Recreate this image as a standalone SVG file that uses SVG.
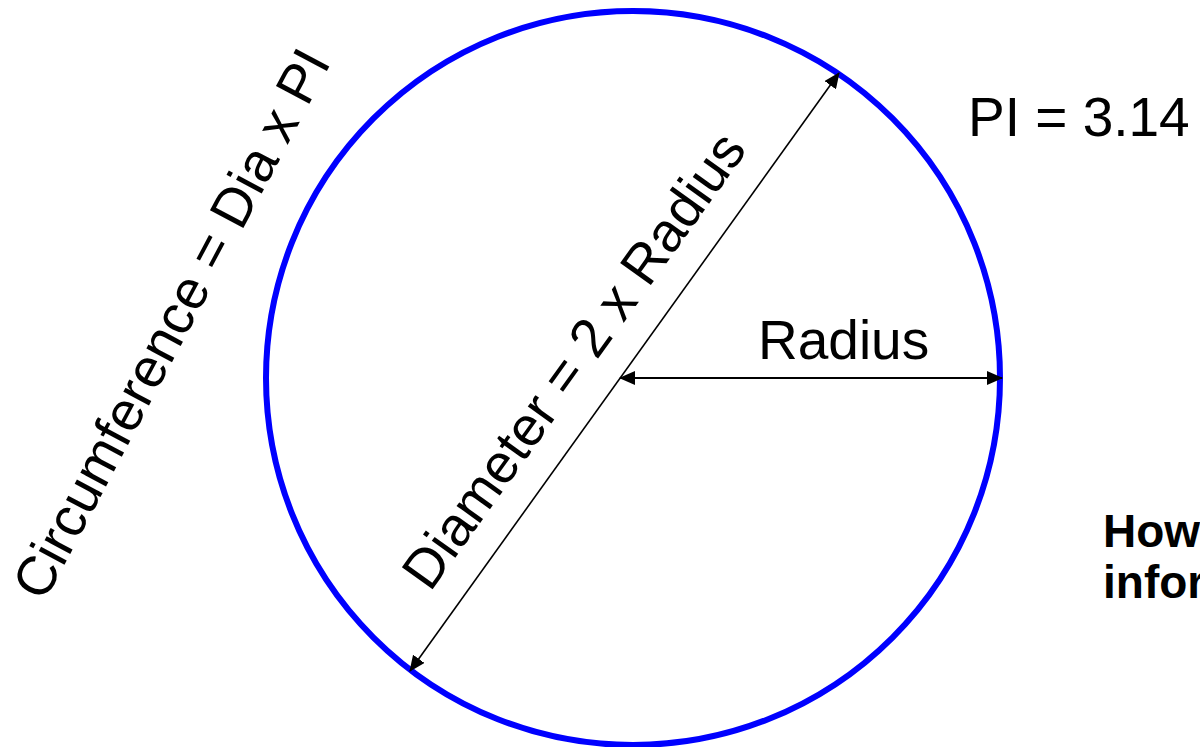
<svg xmlns="http://www.w3.org/2000/svg" width="1200" height="747" viewBox="0 0 1200 747">
  <style>
    .lbl { font-family: "Liberation Sans", Arial, sans-serif; font-size: 55px; fill: #000; }
    .note { font-family: "Liberation Sans", Arial, sans-serif; font-size: 46px; font-weight: bold; fill: #000; }
    .dim { stroke: #000; fill: none; }
  </style>
  <defs>
    <marker id="ah" markerUnits="userSpaceOnUse" viewBox="0 0 16 14" markerWidth="16" markerHeight="14" refX="15" refY="7" orient="auto-start-reverse">
      <path d="M0,0 L16,7 L0,14 z" fill="#000"/>
    </marker>
  </defs>
  <rect width="1200" height="747" fill="#fff"/>
  <g id="circle">
    <circle cx="633" cy="378" r="367" fill="none" stroke="#0000FF" stroke-width="6"/>
  </g>
  <g id="connectors">
    <line class="dim" x1="410" y1="671" x2="839" y2="73" stroke-width="1.6" marker-start="url(#ah)" marker-end="url(#ah)"/>
    <line class="dim" x1="620" y1="378" x2="1002" y2="378" stroke-width="2" marker-start="url(#ah)" marker-end="url(#ah)"/>
  </g>
  <g id="circumference-label">
    <text class="lbl" transform="translate(44 603) rotate(-62)">Circumference = Dia x PI</text>
  </g>
  <g id="diameter-label">
    <text class="lbl" transform="translate(430 593) rotate(-54.35)">Diameter = 2 x Radius</text>
  </g>
  <g id="radius-label">
    <text class="lbl" x="758" y="359">Radius</text>
  </g>
  <g id="pi-label">
    <text class="lbl" x="968" y="136">PI = 3.14</text>
  </g>
  <g id="note">
    <text class="note" x="1103" y="547">How</text>
    <text class="note" x="1103" y="598">infor</text>
  </g>
</svg>
